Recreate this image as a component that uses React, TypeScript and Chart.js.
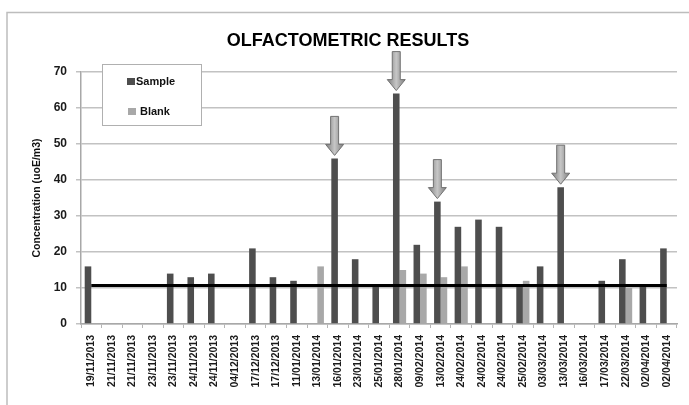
import React, { useEffect, useRef } from "react";
import { Chart, registerables } from "chart.js";

Chart.register(...registerables);

const categories = [
  "19/11/2013", "21/11/2013", "21/11/2013", "23/11/2013", "23/11/2013",
  "24/11/2013", "24/11/2013", "04/12/2013", "17/12/2013", "17/12/2013",
  "11/01/2014", "13/01/2014", "16/01/2014", "23/01/2014", "25/01/2014",
  "28/01/2014", "09/02/2014", "13/02/2014", "24/02/2014", "24/02/2014",
  "24/02/2014", "25/02/2014", "03/03/2014", "13/03/2014", "16/03/2014",
  "17/03/2014", "22/03/2014", "02/04/2014", "02/04/2014",
];

const sampleValues: (number | null)[] = [
  16, null, null, null, 14, 13, 14, null, 21, 13,
  12, null, 46, 18, 11, 64, 22, 34, 27, 29,
  27, 11, 16, 38, null, 12, 18, 11, 21,
];

const blankValues: (number | null)[] = [
  null, null, null, null, null, null, null, null, null, null,
  null, 16, null, null, null, 15, 14, 13, 16, null,
  null, 12, null, null, null, null, 10, null, null,
];

const thresholdValue = 10.7;
const arrowIndices = [12, 15, 17, 23];
const yTicks = [0, 10, 20, 30, 40, 50, 60, 70];

const FONT = "'Liberation Sans', Arial, sans-serif";

const decorPlugin = {
  id: "decor",
  beforeDraw(chart: any) {
    const ctx = chart.ctx;
    ctx.save();
    ctx.fillStyle = "#ffffff";
    ctx.fillRect(0, 0, chart.width, chart.height);
    ctx.strokeStyle = "#bdbdbd";
    ctx.lineWidth = 1.5;
    ctx.strokeRect(7, 12.5, 720, 420);
    ctx.restore();
  },
  afterDatasetsDraw(chart: any) {
    const ctx = chart.ctx;
    const meta = chart.getDatasetMeta(1);
    ctx.save();
    arrowIndices.forEach((i) => {
      const el = meta.data[i];
      if (!el) return;
      const x = el.x;
      const tip = el.y - 3;
      const len = 39;
      const headH = 11;
      const headW = 18;
      const shaftW = 8;
      const top = tip - len;
      const g = ctx.createLinearGradient(x - headW / 2, 0, x + headW / 2, 0);
      g.addColorStop(0, "#7c7c7c");
      g.addColorStop(0.5, "#c6c6c6");
      g.addColorStop(1, "#7c7c7c");
      ctx.beginPath();
      ctx.moveTo(x - shaftW / 2, top);
      ctx.lineTo(x + shaftW / 2, top);
      ctx.lineTo(x + shaftW / 2, tip - headH);
      ctx.lineTo(x + headW / 2, tip - headH);
      ctx.lineTo(x, tip);
      ctx.lineTo(x - headW / 2, tip - headH);
      ctx.lineTo(x - shaftW / 2, tip - headH);
      ctx.closePath();
      ctx.fillStyle = g;
      ctx.fill();
      ctx.strokeStyle = "#727272";
      ctx.lineWidth = 1;
      ctx.stroke();
    });
    ctx.restore();
  },
  afterDraw(chart: any) {
    const ctx = chart.ctx;
    ctx.save();
    ctx.fillStyle = "#000";
    ctx.font = `bold 18px ${FONT}`;
    ctx.textAlign = "center";
    ctx.textBaseline = "alphabetic";
    ctx.fillText("OLFACTOMETRIC RESULTS", 348, 46);
    ctx.fillStyle = "#ffffff";
    ctx.fillRect(102, 64, 99, 61);
    ctx.strokeStyle = "#b0b0b0";
    ctx.lineWidth = 1;
    ctx.strokeRect(102.5, 64.5, 99, 61);
    ctx.fillStyle = "#4e4e4e";
    ctx.fillRect(127, 78, 8, 7);
    ctx.fillStyle = "#a8a8a8";
    ctx.fillRect(128, 108, 8, 7);
    ctx.fillStyle = "#111";
    ctx.font = `bold 11px ${FONT}`;
    ctx.textAlign = "left";
    ctx.textBaseline = "middle";
    ctx.fillText("Sample", 136, 82);
    ctx.fillText("Blank", 140, 112);
    ctx.restore();
  },
};

export default function App() {
  const ref = useRef<HTMLCanvasElement | null>(null);

  useEffect(() => {
    if (!ref.current) return;
    const chart = new Chart(ref.current, {
      type: "bar",
      data: {
        labels: categories,
        datasets: [
          {
            type: "line" as any,
            label: "Threshold",
            data: categories.map(() => thresholdValue),
            borderColor: "#000000",
            borderWidth: 3,
            pointRadius: 0,
            fill: false,
            order: 0,
          } as any,
          {
            label: "Sample",
            data: sampleValues,
            backgroundColor: "#4e4e4e",
            borderWidth: 0,
            categoryPercentage: 0.64,
            barPercentage: 1.0,
            order: 1,
          },
          {
            label: "Blank",
            data: blankValues,
            backgroundColor: "#a8a8a8",
            borderWidth: 0,
            categoryPercentage: 0.64,
            barPercentage: 1.0,
            order: 1,
          },
        ],
      },
      options: {
        responsive: false,
        animation: false,
        layout: { padding: { top: 72, right: 12, bottom: 0, left: 0 } },
        plugins: {
          legend: { display: false },
          title: { display: false },
          tooltip: { enabled: false },
        },
        scales: {
          x: {
            grid: {
              display: true,
              drawOnChartArea: false,
              drawTicks: true,
              tickLength: 4,
              color: "#b5b5b5",
              offset: true,
            },
            border: { display: true, color: "#a8a8a8", width: 1.5 },
            ticks: {
              autoSkip: false,
              maxRotation: 90,
              minRotation: 90,
              padding: 7,
              color: "#1a1a1a",
              font: { family: FONT, size: 10.5, weight: "bold" },
            },
            afterFit(scale: any) {
              scale.height = 81;
            },
          },
          y: {
            min: 0,
            max: 70,
            afterBuildTicks(scale: any) {
              scale.ticks = yTicks.map((v) => ({ value: v }));
            },
            grid: {
              color: "#c2c2c2",
              lineWidth: 1.5,
              tickLength: 5,
              drawTicks: true,
            },
            border: { display: true, color: "#a8a8a8", width: 1.5 },
            ticks: {
              padding: 9,
              color: "#1a1a1a",
              font: { family: FONT, size: 12, weight: "bold" },
            },
            title: {
              display: true,
              text: "Concentration (uoE/m3)",
              color: "#111",
              padding: { top: 30.4, bottom: 0 },
              font: { family: FONT, size: 10.5, weight: "bold" },
            },
            afterFit(scale: any) {
              scale.width = 81;
            },
          },
        },
      },
      plugins: [decorPlugin],
    });
    return () => chart.destroy();
  }, []);

  return (
    <div style={{ position: "fixed", left: 0, top: 0, width: 689, height: 405 }}>
      <canvas ref={ref} width={689} height={405} style={{ width: 689, height: 405 }} />
    </div>
  );
}
